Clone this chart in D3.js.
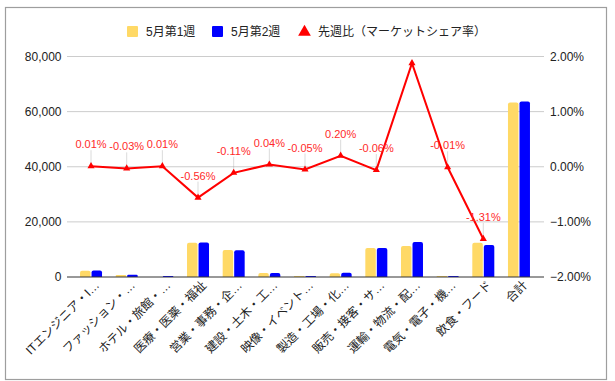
<!DOCTYPE html>
<html><head><meta charset="utf-8">
<script src="https://cdn.jsdelivr.net/npm/d3@7"></script>
<style>
body{margin:0;background:#fff;}
text{font-family:"Liberation Sans",Arial,"Noto Sans CJK JP",sans-serif;}
</style></head>
<body><svg id="c" width="615" height="381"></svg>
<script>
const categories = ["ITエンジニア・I…","ファッション・…","ホテル・旅館・…","医療・医薬・福祉","営業・事務・企…","建設・土木・工…","映像・イベント…","製造・工場・化…","販売・接客・サ…","運輸・物流・配…","電気・電子・機…","飲食・フード","合計"];
const week1 = [2300, 750, 0, 12450, 9800, 1450, 400, 1400, 10500, 11250, 350, 12450, 63300];
const week2 = [2350, 850, 350, 12500, 9750, 1450, 400, 1550, 10500, 12700, 400, 11600, 63650];
const shareChange = [0.01, -0.03, 0.01, -0.56, -0.11, 0.04, -0.05, 0.20, -0.06, 1.88, -0.01, -1.31, null];
const shareLabels = ["0.01%","-0.03%","0.01%","-0.56%","-0.11%","0.04%","-0.05%","0.20%","-0.06%",null,"-0.01%","-1.31%",null];
const leftTicks = [0, 20000, 40000, 60000, 80000];
const rightTicks = [-2, -1, 0, 1, 2];
const seriesNames = ["5月第1週","5月第2週","先週比（マーケットシェア率）"];
const colors = ["#ffd966","#0000ff","#ff0000"];

const svg = d3.select("#c");
svg.append("rect").attr("x",5.5).attr("y",7.5).attr("width",601).attr("height",372)
  .attr("fill","#fff").attr("stroke","#9e9e9e").attr("stroke-width",1.2);

const gx0 = 67, gx1 = 544, plotTop = 56.5, base = 277;
const x = d3.scaleBand().domain(categories).range([73.2, 536.8]);
const yL = d3.scaleLinear().domain([0, 80000]).range([base, plotTop]);
const yR = d3.scaleLinear().domain([-2, 2]).range([base, plotTop]);
const inner = d3.scaleBand().domain([0,1]).range([-11, 11]).paddingInner(0.09);

// gridlines
svg.append("g").selectAll("line").data(leftTicks.filter(d=>d!==0)).join("line")
  .attr("x1",gx0).attr("x2",gx1).attr("y1",d=>yL(d)).attr("y2",d=>yL(d))
  .attr("stroke","#cccccc").attr("stroke-width",1);

// left axis
const fmt = d3.format(",");
svg.append("g").selectAll("text").data(leftTicks).join("text")
  .attr("x",61.5).attr("y",d=>yL(d)).attr("dy","0.35em").attr("text-anchor","end")
  .attr("font-size",12).attr("fill","#222").text(d=>fmt(d));
// right axis
svg.append("g").selectAll("text").data(rightTicks).join("text")
  .attr("x",550).attr("y",d=>yR(d)).attr("dy","0.35em").attr("text-anchor","start")
  .attr("font-size",12).attr("fill","#222").text(d=>d3.format(".2f")(d)+"%");

// bars
const bars = svg.append("g");
[week1, week2].forEach((vals, si) => {
  bars.selectAll(null).data(vals.map((v,i)=>({v,c:categories[i]}))).join("path")
    .attr("fill", colors[si])
    .attr("d", d => {
      const bx = x(d.c) + x.bandwidth()/2 + inner(si), bw = inner.bandwidth();
      const y0 = yL(0), y1 = yL(d.v), h = y0 - y1;
      if (h <= 0.2) return "";
      const r = Math.min(2, h/2);
      return `M${bx},${y0}V${y1+r}Q${bx},${y1} ${bx+r},${y1}H${bx+bw-r}Q${bx+bw},${y1} ${bx+bw},${y1+r}V${y0}Z`;
    });
});

// baseline
svg.append("line").attr("x1",gx0).attr("x2",gx1).attr("y1",base).attr("y2",base)
  .attr("stroke","#333").attr("stroke-width",1);

// line series
const pts = shareChange.map((v,i)=>({v,c:categories[i],l:shareLabels[i]})).filter(d=>d.v!==null);
const cx = d => x(d.c) + x.bandwidth()/2;
// stems
svg.append("g").selectAll("line").data(pts.filter(d=>d.l)).join("line")
  .attr("x1",cx).attr("x2",cx).attr("y1",d=>yR(d.v)-16).attr("y2",d=>yR(d.v))
  .attr("stroke","#999").attr("stroke-opacity",0.35).attr("stroke-width",1);
svg.append("path").datum(pts)
  .attr("d", d3.line().x(cx).y(d=>yR(d.v)))
  .attr("fill","none").attr("stroke",colors[2]).attr("stroke-width",2);
svg.append("g").selectAll("path").data(pts).join("path")
  .attr("transform",d=>`translate(${cx(d)},${yR(d.v)})`)
  .attr("d", d3.symbol().type(d3.symbolTriangle).size(22)).attr("fill",colors[2]);
svg.append("g").selectAll("text").data(pts.filter(d=>d.l)).join("text")
  .attr("x",cx).attr("y",d=>yR(d.v)-18).attr("text-anchor","middle")
  .attr("font-size",11).attr("fill","#ff2a2a").text(d=>d.l);

// x labels
svg.append("g").selectAll("text").data(categories).join("text")
  .attr("transform",d=>`translate(${x(d)+x.bandwidth()/2+6},${283}) rotate(-45)`)
  .attr("dy","0.35em").attr("text-anchor","end").attr("font-size",12).attr("fill","#222")
  .text(d=>d);

// legend
const lg = svg.append("g");
const legendX = [127, 212, 299];
seriesNames.forEach((n,i)=>{
  if (i<2) lg.append("rect").attr("x",legendX[i]).attr("y",26).attr("width",11).attr("height",11).attr("fill",colors[i]).attr("rx",1);
  else lg.append("path").attr("transform",`translate(${legendX[i]+5.5},${32})`).attr("d",d3.symbol().type(d3.symbolTriangle).size(70)).attr("fill",colors[i]);
  lg.append("text").attr("x",legendX[i]+19).attr("y",31.5).attr("dy","0.35em").attr("font-size",12).attr("fill","#222").text(n);
});
</script></body></html>
